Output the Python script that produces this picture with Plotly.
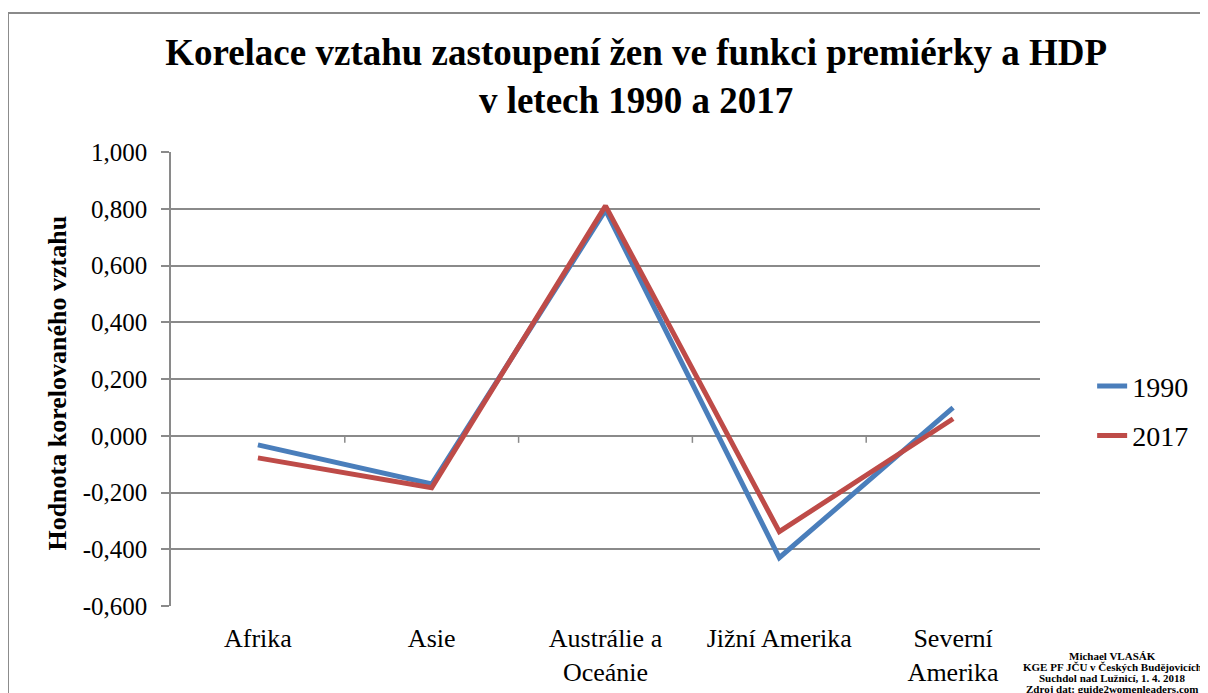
import plotly.graph_objs as go

categories = ["Afrika", "Asie", "Austrálie a<br>Oceánie", "Jižní Amerika", "Severní<br>Amerika"]
values_1990 = [-0.032, -0.170, 0.795, -0.430, 0.099]
values_2017 = [-0.078, -0.183, 0.810, -0.338, 0.060]
tick_vals = [1.0, 0.8, 0.6, 0.4, 0.2, 0.0, -0.2, -0.4, -0.6]
tick_text = ["1,000", "0,800", "0,600", "0,400", "0,200", "0,000", "-0,200", "-0,400", "-0,600"]
footer_lines = ["Michael VLASÁK", "KGE PF JČU v Českých Budějovicích",
                "Suchdol nad Lužnicí, 1. 4. 2018", "Zdroj dat: guide2womenleaders.com"]

serif = "Liberation Serif, Times New Roman, serif"
grey = "#8a8a8a"

fig = go.Figure()
fig.add_trace(go.Scatter(x=categories, y=values_1990, mode="lines", name="1990",
                         legendgroup="a", line=dict(color="#4A7EBB", width=5)))
fig.add_trace(go.Scatter(x=categories, y=values_2017, mode="lines", name="2017",
                         legendgroup="b", line=dict(color="#BE4B48", width=5)))

# page body adds 8px offset, so margins are pulled in by 8px
fig.update_layout(
    width=1208, height=693,
    paper_bgcolor="white", plot_bgcolor="white",
    margin=dict(l=163, r=176, t=144, b=95, autoexpand=False),
    font=dict(family=serif, size=25, color="black"),
    title=dict(text="<b>Korelace vztahu zastoupení žen ve funkci premiérky a HDP<br>v letech 1990 a 2017</b>",
               x=0.520, xanchor="center", y=0.918, yanchor="top",
               font=dict(family=serif, size=37, color="black")),
    legend=dict(x=1.06, y=0.43, xanchor="left", yanchor="middle",
                font=dict(family=serif, size=28), tracegroupgap=10,
                bgcolor="rgba(0,0,0,0)"),
    showlegend=True,
)

fig.update_yaxes(range=[-0.6, 1.0], tickvals=tick_vals, ticktext=tick_text,
                 showgrid=True, gridcolor=grey, gridwidth=1.5,
                 showline=True, linecolor=grey, linewidth=1.5,
                 ticks="outside", ticklen=8, tickcolor=grey, tickwidth=1.5,
                 ticklabelstandoff=9,
                 zeroline=False, tickfont=dict(family=serif, size=25))
fig.update_xaxes(range=[-0.5, 4.5], showgrid=False,
                 showline=False, ticks="", ticklabelstandoff=14,
                 tickfont=dict(family=serif, size=26))

# category boundary ticks on the zero line
for i in range(4):
    fig.add_shape(type="line", xref="x", yref="y", x0=i + 0.5, x1=i + 0.5,
                  y0=0, y1=-0.025, line=dict(color=grey, width=1.5))

# outer chart border
fig.add_shape(type="rect", xref="paper", yref="paper", x0=-0.1876, x1=1.4, y0=-0.4, y1=1.306,
              line=dict(color=grey, width=2), layer="below")

# y axis title
fig.add_annotation(xref="paper", yref="paper", x=-0.1300, y=0.49, xanchor="center", yanchor="middle",
                   text="<b>Hodnota korelovaného vztahu</b>", textangle=-90, showarrow=False,
                   font=dict(family=serif, size=26, color="black"))

# author / source footer, tightly spaced lines
for k, line in enumerate(footer_lines):
    fig.add_annotation(xref="paper", yref="paper", x=1.083, y=-0.110 - k * 0.0243,
                       xanchor="center", yanchor="middle", text=f"<b>{line}</b>",
                       showarrow=False, font=dict(family=serif, size=11, color="black"))

fig.write_html("out.html")
